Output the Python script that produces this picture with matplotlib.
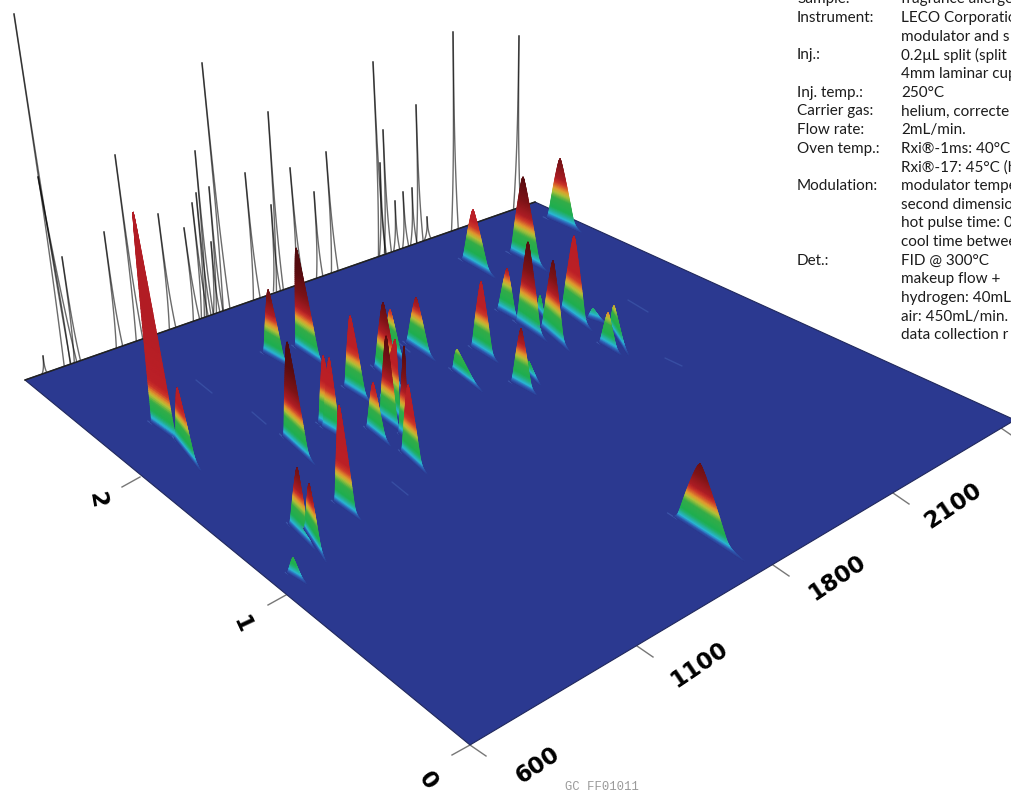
import numpy as np
import matplotlib
matplotlib.use("Agg")
import matplotlib.pyplot as plt
from matplotlib.colors import LinearSegmentedColormap, Normalize
from matplotlib.patches import Polygon

# ---------- data (plane of the rendered 3D view) ----------
floor_x = [25, 535, 1015, 470]
floor_y = [380, 202, 420, 745]

# rt1 axis (along the front-right edge)
rt1_labels = ["600", "1100", "1800", "2100"]
rt1_tick_x = [470, 637, 773, 893, 1001]
rt1_tick_y = [745, 646, 565, 493, 428]
rt1_label_x = [538, 699, 837, 953]
rt1_label_y = [765, 665, 578, 506]

# rt2 axis (along the front-left edge)
rt2_labels = ["0", "1", "2"]
rt2_tick_x = [470, 286, 140]
rt2_tick_y = [745, 595, 477]
rt2_label_x = [428, 242, 97]
rt2_label_y = [781, 625, 500]

# coloured surface peaks
peak_apex_x = [133, 177, 268, 296, 287, 350, 323, 329, 339, 383, 390, 416, 386, 373,
               404, 395, 408, 457, 473, 523, 560, 574, 553, 507, 528, 540, 481, 521,
               529, 593, 608, 614, 700, 297, 309, 293]
peak_apex_y = [212, 388, 290, 248, 342, 316, 356, 358, 405, 303, 310, 298, 336, 383,
               346, 340, 385, 350, 210, 177, 159, 236, 261, 269, 242, 296, 282, 329,
               362, 309, 313, 306, 464, 468, 484, 558]
peak_left_x = [152, 176, 264, 296, 284, 345, 319, 323, 335, 375, 385, 407, 380, 367,
               399, 380, 402, 453, 463, 511, 548, 562, 542, 498, 517, 537, 472, 512,
               527, 588, 600, 610, 677, 290, 305, 288]
peak_left_y = [423, 440, 353, 347, 437, 387, 423, 427, 502, 368, 345, 343, 417, 428,
               433, 400, 452, 370, 260, 253, 218, 310, 328, 310, 322, 310, 347, 382,
               373, 318, 343, 327, 518, 525, 530, 573]
peak_right_x = [176, 196, 285, 320, 309, 366, 338, 340, 356, 400, 402, 430, 398, 386,
                408, 400, 422, 477, 489, 540, 575, 586, 564, 516, 541, 545, 493, 532,
                538, 603, 617, 625, 730, 310, 322, 303]
peak_right_y = [440, 465, 365, 363, 460, 400, 433, 437, 517, 390, 360, 358, 430, 443,
                440, 420, 470, 388, 275, 268, 230, 327, 347, 320, 338, 320, 360, 393,
                383, 323, 353, 350, 552, 545, 556, 582]
peak_dark = [0, 0, 1, 1, 1, 0, 0, 0, 0, 1, 0, 1, 1, 0,
             1, 0, 0, 0, 0, 1, 1, 0, 1, 1, 1, 0, 0, 1,
             0, 0, 0, 0, 1, 1, 1, 0]

# raw chromatogram needles on the back wall
needle_top_x = [14, 38, 62, 43, 104, 115, 158, 184, 192, 196, 195, 202, 209, 211, 245, 268,
                271, 290, 314, 326, 373, 383, 380, 395, 403, 412, 416, 427, 453, 519]
needle_top_y = [14, 177, 257, 356, 232, 155, 214, 228, 203, 193, 151, 63, 187, 242, 173, 112,
                205, 168, 192, 152, 62, 130, 163, 201, 192, 188, 105, 217, 32, 36]
needle_foot_x = [68, 74, 78, 45, 120, 140, 173, 197, 205, 208, 210, 227, 220, 217, 257, 280,
                 277, 300, 320, 335, 382, 388, 383, 397, 406, 414, 420, 428, 455, 517]
needle_foot_y = [365, 362, 362, 373, 347, 340, 328, 320, 315, 315, 313, 310, 312, 312, 297, 288,
                 288, 280, 277, 270, 253, 250, 253, 250, 247, 243, 242, 237, 230, 207]

# faint streaks on the floor with no visible peak
streak_x0 = [196, 252, 392, 665, 628, 395]
streak_y0 = [380, 412, 482, 358, 300, 340]
streak_x1 = [212, 266, 408, 682, 648, 410]
streak_y1 = [393, 424, 495, 366, 312, 352]

info_labels = ["Sample:", "Instrument:", "", "Inj.:", "", "Inj. temp.:", "Carrier gas:", "Flow rate:",
               "Oven temp.:", "", "Modulation:", "", "", "", "Det.:", "", "", "", ""]
info_values = ["fragrance allerge", "LECO Corporatio", "modulator and s", "0.2\u03bcL split (split",
               "4mm laminar cup", "250\u00b0C", "helium, correcte", "2mL/min.",
               "Rxi\u00ae-1ms: 40\u00b0C (", "Rxi\u00ae-17: 45\u00b0C (h", "modulator tempe",
               "second dimensio", "hot pulse time: 0", "cool time betwee", "FID @ 300\u00b0C",
               "makeup flow +", "hydrogen: 40mL,", "air: 450mL/min.", "data collection r"]
figure_code = "GC FF01011"

# ---------- styling ----------
FLOOR = "#2b3990"
fig = plt.figure(figsize=(10.11, 7.94), dpi=100)
ax = fig.add_axes([0, 0, 1, 1])
ax.set_xlim(0, 1011)
ax.set_ylim(794, 0)
ax.axis("off")

SPAN = 120.0
common = [(0, FLOOR), (3, "#2f5fb5"), (6, "#2ab6d8"), (11, "#22b07a"), (14, "#1fae50"),
          (24, "#34ad48"), (30, "#b4c238"), (34, "#e39c2e"), (40, "#cf3a2a")]
bright = LinearSegmentedColormap.from_list(
    "bright", [(p / SPAN, c) for p, c in common] + [(47 / SPAN, "#bb1f26"), (1, "#b21c24")])
dark = LinearSegmentedColormap.from_list(
    "dark", [(p / SPAN, c) for p, c in common] + [(45 / SPAN, "#ad1d24"), (60 / SPAN, "#7e1317"),
                                                  (82 / SPAN, "#5a0c10"), (1, "#4a0a0c")])
norm = Normalize(0, SPAN)

# needles (behind the floor)
s = np.linspace(0, 1, 40)
spread = 3.4 * (1 - s) ** 3 + 0.15
for tx, ty, fx, fy in zip(needle_top_x, needle_top_y, needle_foot_x, needle_foot_y):
    cx = fx + (tx - fx) * s
    cy = fy + 3 + (ty - fy - 3) * s
    ax.plot(cx - spread, cy, color="black", alpha=0.58, lw=1.0, zorder=1)
    ax.plot(cx + spread, cy, color="black", alpha=0.58, lw=1.0, zorder=1)

# floor
ax.add_patch(Polygon(np.column_stack([floor_x, floor_y]), closed=True, facecolor=FLOOR,
                     edgecolor="#20285c", lw=0.8, zorder=2))
ax.plot(floor_x[:2], floor_y[:2], color="#222222", lw=1.1, zorder=2.1)

# axis ticks
for tx, ty in zip(rt1_tick_x, rt1_tick_y):
    ax.plot([tx, tx + 16], [ty, ty + 11], color="#777777", lw=1, zorder=1.5)
for tx, ty in zip(rt2_tick_x, rt2_tick_y):
    ax.plot([tx, tx - 18], [ty, ty + 10], color="#777777", lw=1, zorder=1.5)

# floor streaks
for x0, y0, x1, y1 in zip(streak_x0, streak_y0, streak_x1, streak_y1):
    ax.plot([x0, x1], [y0, y1], color="#4f74c4", alpha=0.35, lw=1.0, zorder=2.2,
            solid_capstyle="round")

# surface peaks, back to front
order = np.argsort(np.array(peak_left_y) + np.array(peak_right_y))
t = np.linspace(0, 1, 70) ** 1.6
v = np.linspace(-0.5, 0.5, 15)
T, V = np.meshgrid(t, v, indexing="ij")
for rank, i in enumerate(order):
    ax_, ay_ = peak_apex_x[i], peak_apex_y[i]
    lx, ly, rx, ry = peak_left_x[i], peak_left_y[i], peak_right_x[i], peak_right_y[i]
    mx, my = (lx + rx) / 2, (ly + ry) / 2
    height = my - ay_
    h_px = T * height
    w = 0.82 * (1 - T) + 0.18 * np.sqrt(np.clip(1 - T ** 2, 0, 1))
    # flare of the foot: longer on the lower right, fading into the floor colour
    flare = np.where(V > 0, 0.6, 0.12) * np.exp(-h_px / 2.6) * np.abs(V) * 2
    X = mx + (ax_ - mx) * T + (rx - lx) * V * (w + flare)
    Y = my + (ay_ - my) * T + (ry - ly) * V * (w + flare)
    z = 3 + rank * 0.1
    dx, dy = rx - lx, ry - ly
    ax.plot([lx - 0.18 * dx, lx], [ly - 0.18 * dy + 1, ly + 1],
            color="#4f74c4", alpha=0.45, lw=0.9, zorder=z - 0.02, solid_capstyle="round")
    ax.pcolormesh(X, Y, h_px, shading="gouraud", norm=norm,
                  cmap=dark if peak_dark[i] else bright, zorder=z)

# axis labels
for lab, x, y in zip(rt1_labels, rt1_label_x, rt1_label_y):
    ax.text(x, y, lab, rotation=34, ha="center", va="center", rotation_mode="anchor",
            fontsize=16.5, fontweight="bold", color="black", family="DejaVu Sans", zorder=20)
rot2 = [-55, -65, -80]
for lab, x, y, r in zip(rt2_labels, rt2_label_x, rt2_label_y, rot2):
    ax.text(x, y, lab, rotation=r, ha="center", va="center", rotation_mode="anchor",
            fontsize=16.5, fontweight="bold", color="black", family="DejaVu Sans", zorder=20)

# conditions block
fam = ["Lato", "DejaVu Sans"]
for k, (a, b) in enumerate(zip(info_labels, info_values)):
    yy = -0.5 + k * 18.65
    if a:
        ax.text(797, yy, a, fontsize=11.0, family=fam, color="#1c1c1c", va="center", ha="left", zorder=20)
    ax.text(901, yy, b, fontsize=11.0, family=fam, color="#1c1c1c", va="center", ha="left", zorder=20)

ax.text(602, 787, figure_code, fontsize=8.8, family="Liberation Mono", color="#9a9a9a",
        ha="center", va="center", zorder=20)

fig.savefig("out.png", dpi=100)
